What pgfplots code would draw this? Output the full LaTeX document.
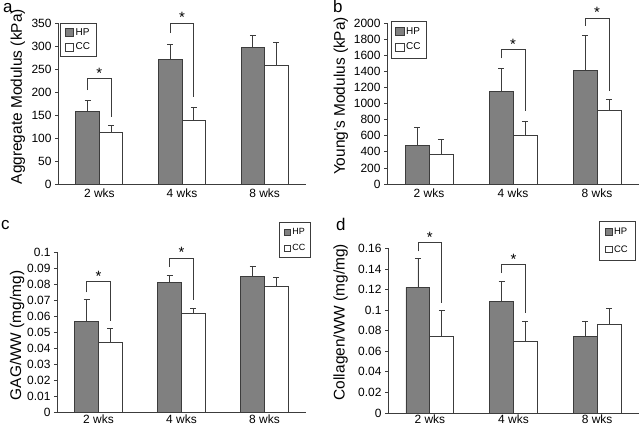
\documentclass[border=0pt]{standalone}
\usepackage{fontspec}
\setmainfont{Liberation Sans}
\usepackage{pgfplots}
\usepackage{pgfplotstable}
\pgfplotsset{compat=1.18}
\definecolor{hpfill}{RGB}{128,128,128}
\definecolor{edge}{RGB}{60,60,60}

% columns: xh = HP bar centre, xc = CC bar centre
% panel a: aggregate modulus (kPa)
\pgfplotstableread{
xh      xc      hp   hpe  cc   cce
0.3575  0.6425  158  24   112  16
1.3575  1.6425  270  34   138  29
2.3575  2.6425  296  26   258  50
}\tabA
% panel b: Young's modulus (kPa)
\pgfplotstableread{
xh      xc      hp    hpe  cc   cce
0.3575  0.6425  475   233  370  185
1.3575  1.6425  1150  280  600  180
2.3575  2.6425  1410  440  915  130
}\tabB
% panel c: GAG/WW (mg/mg)
\pgfplotstableread{
xh      xc      hp      hpe     cc      cce
0.3575  0.6425  0.0570  0.0132  0.0437  0.0086
1.3575  1.6425  0.0811  0.0043  0.0615  0.0035
2.3575  2.6425  0.0845  0.0068  0.0784  0.0058
}\tabC
% panel d: Collagen/WW (mg/mg)
\pgfplotstableread{
xh      xc      hp     hpe    cc     cce
0.3575  0.6425  0.122  0.028  0.074  0.026
1.3575  1.6425  0.108  0.020  0.070  0.019
2.3575  2.6425  0.074  0.015  0.086  0.016
}\tabD

\tikzset{sigstar/.style={font=\fontsize{15}{16}\selectfont, anchor=center, yshift=-3bp}}

\pgfplotsset{
  panel/.style={
    scale only axis,
    xmin=0, xmax=3, ymin=0,
    axis x line*=bottom, axis y line*=left,
    axis line style={draw=edge, line width=0.8pt, -},
    xtick={0.5,1.5,2.5}, xticklabels={2 wks,4 wks,8 wks},
    x tick style={draw=none},
    y tick style={draw=edge, line width=0.7pt},
    tick align=outside, major tick length=3bp,
    tick label style={font=\fontsize{12}{14}\selectfont},
    xticklabel style={yshift=2bp},
    ylabel style={font=\fontsize{15.5}{17}\selectfont, anchor=center},
    clip=false,
    legend style={draw=edge, line width=0.8pt, fill=white,
      anchor=north west, nodes={inner sep=1.5bp}, cells={anchor=west}},
    legend cell align=left,
  },
  bars/.style={ybar, bar width=0.285, bar shift=0pt, draw=edge, line width=0.8pt,
    error bars/y dir=plus, error bars/y explicit,
    error bars/error mark=-,
    error bars/error bar style={draw=edge, line width=0.8pt},
    error bars/error mark options={rotate=90, draw=edge, line width=0.8pt, mark size=3bp}},
  bigleg/.style={legend image code/.code={\draw[##1] (0bp,-4bp) rectangle (8.5bp,4bp);}},
  smallleg/.style={legend image code/.code={\draw[##1, line width=0.7pt] (0bp,-3.2bp) rectangle (6.4bp,3.2bp);}},
  hpbar/.style={bars, fill=hpfill},
  ccbar/.style={bars, fill=white},
  brk/.style={sharp plot, no marks, bar shift=0pt, draw=edge, line width=0.8pt, forget plot},
}

\begin{document}
\begin{tikzpicture}
\useasboundingbox (0bp,0bp) rectangle (640bp,427bp);

% ---------- a ----------
\begin{axis}[panel, at={(58bp,243bp)}, anchor=south west,
  width=248bp, height=161bp, ymax=350,
  ytick={0,50,...,350}, yticklabels={0,50,100,150,200,250,300,350},
  ylabel={Aggregate Modulus (kPa)},
  ylabel style={at={(axis description cs:-0.162,0.542)}},
  legend style={at={(axis description cs:0.008,1)},
    font=\fontsize{10}{11}\selectfont, inner xsep=4.5bp, inner ysep=3.5bp, row sep=3bp}]
\addplot[hpbar, bigleg] table[x=xh, y=hp, y error=hpe] {\tabA};
\addlegendentry{HP}
\addplot[ccbar, bigleg] table[x=xc, y=cc, y error=cce] {\tabA};
\addlegendentry{CC}
\addplot[brk] coordinates {(0.3575,204) (0.3575,230) (0.6425,230) (0.6425,146)};
\addplot[brk] coordinates {(1.3575,328) (1.3575,350) (1.6425,350) (1.6425,189)};
\node[sigstar] at (axis cs:0.5,247) {*};
\node[sigstar] at (axis cs:1.5,368) {*};
\end{axis}

% ---------- b ----------
\begin{axis}[panel, at={(387bp,243bp)}, anchor=south west,
  width=252bp, height=161bp, ymax=2000,
  ytick={0,200,...,2000},
  yticklabels={0,200,400,600,800,1000,1200,1400,1600,1800,2000},
  ylabel={Young's Modulus (kPa)},
  ylabel style={at={(axis description cs:-0.183,0.547)}},
  legend style={at={(axis description cs:0.016,1.014)},
    font=\fontsize{10}{11}\selectfont, inner xsep=4bp, inner ysep=5bp, row sep=4bp}]
\addplot[hpbar, bigleg] table[x=xh, y=hp, y error=hpe] {\tabB};
\addlegendentry{HP}
\addplot[ccbar, bigleg] table[x=xc, y=cc, y error=cce] {\tabB};
\addlegendentry{CC}
\addplot[brk] coordinates {(1.3575,1559) (1.3575,1673) (1.6425,1673) (1.6425,910)};
\addplot[brk] coordinates {(2.3575,1963) (2.3575,2062) (2.6425,2062) (2.6425,1159)};
\node[sigstar] at (axis cs:1.5,1774) {*};
\node[sigstar] at (axis cs:2.5,2171) {*};
\end{axis}

% ---------- c ----------
\begin{axis}[panel, at={(57bp,14.5bp)}, anchor=south west,
  width=249bp, height=160.5bp, ymax=0.1,
  ytick={0,0.01,0.02,0.03,0.04,0.05,0.06,0.07,0.08,0.09,0.1},
  yticklabels={0,0.01,0.02,0.03,0.04,0.05,0.06,0.07,0.08,0.09,0.1},
  xticklabel style={yshift=2.5bp},
  ylabel={GAG/WW (mg/mg)},
  ylabel style={at={(axis description cs:-0.16,0.48)}},
  legend style={at={(axis description cs:0.893,1.184)},
    font=\fontsize{9}{10}\selectfont, inner xsep=4bp, inner ysep=4bp, row sep=5.5bp}]
\addplot[hpbar, smallleg] table[x=xh, y=hp, y error=hpe] {\tabC};
\addlegendentry{HP}
\addplot[ccbar, smallleg] table[x=xc, y=cc, y error=cce] {\tabC};
\addlegendentry{CC}
\addplot[brk] coordinates {(0.3575,0.0748) (0.3575,0.0817) (0.6425,0.0817) (0.6425,0.0573)};
\addplot[brk] coordinates {(1.3575,0.0906) (1.3575,0.0963) (1.6425,0.0963) (1.6425,0.0698)};
\node[sigstar] at (axis cs:0.5,0.0868) {*};
\node[sigstar] at (axis cs:1.5,0.1014) {*};
\end{axis}

% ---------- d ----------
\begin{axis}[panel, at={(388bp,14bp)}, anchor=south west,
  width=251bp, height=164.7bp, ymax=0.16,
  ytick={0,0.02,0.04,0.06,0.08,0.1,0.12,0.14,0.16},
  yticklabels={0,0.02,0.04,0.06,0.08,0.1,0.12,0.14,0.16},
  xticklabel style={yshift=2.5bp},
  ylabel={Collagen/WW (mg/mg)},
  ylabel style={at={(axis description cs:-0.189,0.552)}},
  legend style={at={(axis description cs:0.841,1.168)},
    font=\fontsize{9.5}{10}\selectfont, inner xsep=6bp, inner ysep=5.5bp, row sep=6.5bp}]
\addplot[hpbar, smallleg] table[x=xh, y=hp, y error=hpe] {\tabD};
\addlegendentry{HP}
\addplot[ccbar, smallleg] table[x=xc, y=cc, y error=cce] {\tabD};
\addlegendentry{CC}
\addplot[brk] coordinates {(0.3575,0.157) (0.3575,0.1662) (0.6425,0.1662) (0.6425,0.107)};
\addplot[brk] coordinates {(1.3575,0.136) (1.3575,0.1448) (1.6425,0.1448) (1.6425,0.097)};
\node[sigstar] at (axis cs:0.5,0.1735) {*};
\node[sigstar] at (axis cs:1.5,0.1523) {*};
\end{axis}

% panel letters
\node[anchor=base west, font=\fontsize{17}{18}\selectfont, inner sep=0pt] at (3bp,414bp) {a};
\node[anchor=base west, font=\fontsize{17}{18}\selectfont, inner sep=0pt] at (333bp,414bp) {b};
\node[anchor=base west, font=\fontsize{17}{18}\selectfont, inner sep=0pt] at (1bp,197bp) {c};
\node[anchor=base west, font=\fontsize{17}{18}\selectfont, inner sep=0pt] at (336bp,196.5bp) {d};
\end{tikzpicture}
\end{document}
